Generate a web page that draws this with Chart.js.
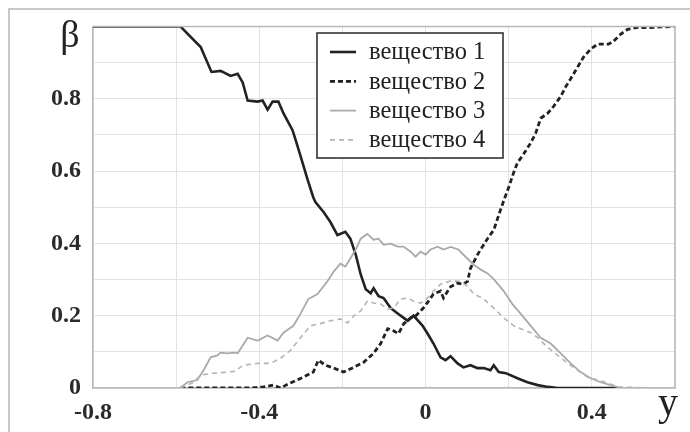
<!DOCTYPE html>
<html>
<head>
<meta charset="utf-8">
<script src="https://cdn.jsdelivr.net/npm/chart.js@4/dist/chart.umd.min.js"></script>
<style>
  html, body { margin: 0; padding: 0; background: #fff; }
  #wrap { width: 690px; height: 432px; }
</style>
</head>
<body>
<div id="wrap"><canvas id="c" width="690" height="432"></canvas></div>
<script>
// Series names (legend text)
const seriesNames = ['вещество 1', 'вещество 2', 'вещество 3', 'вещество 4'];

// вещество 1: y coordinate and β
const y1 = [-0.8, -0.59, -0.541, -0.515, -0.493, -0.469, -0.452, -0.44, -0.428, -0.404, -0.392, -0.38, -0.368, -0.354, -0.342, -0.32, -0.308, -0.296, -0.284, -0.27, -0.265, -0.245, -0.229, -0.212, -0.193, -0.181, -0.168, -0.156, -0.144, -0.132, -0.125, -0.113, -0.101, -0.084, -0.06, -0.043, -0.029, -0.007, 0.005, 0.019, 0.036, 0.048, 0.06, 0.077, 0.091, 0.108, 0.125, 0.14, 0.156, 0.164, 0.176, 0.193, 0.221, 0.245, 0.27, 0.294, 0.318, 0.47];
const b1 = [1, 1, 0.943, 0.874, 0.877, 0.863, 0.869, 0.845, 0.795, 0.792, 0.795, 0.77, 0.792, 0.792, 0.76, 0.713, 0.669, 0.623, 0.577, 0.527, 0.514, 0.486, 0.459, 0.423, 0.432, 0.413, 0.369, 0.314, 0.273, 0.262, 0.276, 0.254, 0.249, 0.221, 0.2, 0.186, 0.2, 0.172, 0.15, 0.123, 0.085, 0.077, 0.088, 0.068, 0.057, 0.063, 0.055, 0.055, 0.049, 0.063, 0.044, 0.041, 0.027, 0.016, 0.008, 0.003, 0, 0];

// вещество 2
const y2 = [-0.59, -0.469, -0.421, -0.39, -0.366, -0.349, -0.325, -0.294, -0.27, -0.258, -0.241, -0.221, -0.197, -0.173, -0.149, -0.125, -0.108, -0.091, -0.077, -0.065, -0.053, -0.036, -0.024, -0.007, 0.007, 0.019, 0.036, 0.043, 0.06, 0.077, 0.091, 0.101, 0.108, 0.125, 0.149, 0.164, 0.176, 0.188, 0.2, 0.212, 0.221, 0.233, 0.253, 0.265, 0.277, 0.294, 0.308, 0.325, 0.337, 0.349, 0.366, 0.38, 0.397, 0.414, 0.428, 0.44, 0.452, 0.469, 0.486, 0.51, 0.542, 0.6];
const b2 = [0, 0, 0, 0.003, 0.008, 0, 0.014, 0.03, 0.044, 0.077, 0.063, 0.055, 0.044, 0.057, 0.071, 0.096, 0.123, 0.164, 0.158, 0.15, 0.177, 0.194, 0.199, 0.219, 0.24, 0.26, 0.268, 0.249, 0.28, 0.29, 0.287, 0.295, 0.331, 0.369, 0.413, 0.437, 0.478, 0.518, 0.555, 0.596, 0.623, 0.642, 0.678, 0.705, 0.746, 0.76, 0.779, 0.806, 0.833, 0.855, 0.888, 0.915, 0.937, 0.951, 0.951, 0.951, 0.959, 0.978, 0.992, 0.997, 0.997, 1];

// вещество 3
const y3 = [-0.59, -0.573, -0.549, -0.534, -0.517, -0.501, -0.493, -0.477, -0.462, -0.452, -0.428, -0.404, -0.38, -0.356, -0.342, -0.318, -0.301, -0.282, -0.26, -0.236, -0.221, -0.205, -0.193, -0.181, -0.168, -0.156, -0.14, -0.125, -0.113, -0.101, -0.084, -0.067, -0.053, -0.036, -0.024, -0.012, 0, 0.012, 0.029, 0.043, 0.06, 0.079, 0.096, 0.116, 0.132, 0.149, 0.164, 0.188, 0.209, 0.229, 0.253, 0.277, 0.301, 0.325, 0.349, 0.373, 0.397, 0.421, 0.445, 0.469];
const b3 = [0, 0.016, 0.022, 0.049, 0.085, 0.09, 0.098, 0.096, 0.098, 0.096, 0.139, 0.131, 0.145, 0.131, 0.153, 0.172, 0.205, 0.246, 0.26, 0.295, 0.322, 0.344, 0.336, 0.358, 0.383, 0.413, 0.426, 0.41, 0.413, 0.396, 0.399, 0.391, 0.391, 0.377, 0.363, 0.377, 0.369, 0.383, 0.391, 0.383, 0.39, 0.383, 0.363, 0.341, 0.328, 0.317, 0.301, 0.268, 0.232, 0.205, 0.172, 0.139, 0.123, 0.096, 0.068, 0.044, 0.027, 0.016, 0.008, 0];

// вещество 4
const y4 = [-0.59, -0.558, -0.541, -0.51, -0.477, -0.46, -0.438, -0.404, -0.373, -0.349, -0.325, -0.301, -0.277, -0.253, -0.229, -0.205, -0.188, -0.173, -0.156, -0.14, -0.125, -0.108, -0.091, -0.077, -0.06, -0.043, -0.029, -0.012, 0.005, 0.019, 0.036, 0.06, 0.084, 0.101, 0.116, 0.14, 0.164, 0.188, 0.212, 0.229, 0.253, 0.27, 0.294, 0.318, 0.342, 0.366, 0.39, 0.414, 0.438, 0.462, 0.542];
const b4 = [0, 0.016, 0.036, 0.041, 0.044, 0.046, 0.063, 0.068, 0.068, 0.082, 0.104, 0.139, 0.172, 0.178, 0.186, 0.191, 0.18, 0.199, 0.213, 0.24, 0.235, 0.232, 0.219, 0.221, 0.246, 0.249, 0.24, 0.235, 0.249, 0.268, 0.287, 0.296, 0.295, 0.281, 0.26, 0.246, 0.221, 0.194, 0.172, 0.164, 0.153, 0.139, 0.112, 0.09, 0.068, 0.049, 0.03, 0.022, 0.014, 0.003, 0];

// Axis labels drawn at the ends of the axes
const yAxisTitle = 'β';
const xAxisTitle = 'y';

const pts = (xs, ys) => xs.map((x, i) => ({ x: x, y: ys[i] }));

const SERIF = "'Liberation Serif', 'DejaVu Serif', serif";

const styles = [
  { color: '#222222', width: 2.6, dash: [] },
  { color: '#222222', width: 2.8, dash: [5, 3] },
  { color: '#a9a9a9', width: 1.8, dash: [] },
  { color: '#b4b4b4', width: 1.6, dash: [5, 4] }
];

const datasets = [pts(y1, b1), pts(y2, b2), pts(y3, b3), pts(y4, b4)].map((d, i) => ({
  label: seriesNames[i],
  data: d,
  borderColor: styles[i].color,
  borderWidth: styles[i].width,
  borderDash: styles[i].dash,
  pointRadius: 0,
  tension: 0,
  fill: false,
  order: 4 - i
}));

// Outer frame, plot frame, axis titles and the boxed legend
const decor = {
  id: 'decor',
  beforeDraw(chart) {
    const ctx = chart.ctx;
    ctx.save();
    ctx.fillStyle = '#fff';
    ctx.fillRect(0, 0, chart.width, chart.height);
    ctx.strokeStyle = '#c8c8c8';
    ctx.lineWidth = 2;
    ctx.strokeRect(9, 9, 700, 440);
    ctx.restore();
  },
  afterDatasetsDraw(chart) {
    const ctx = chart.ctx;
    const a = chart.chartArea;
    ctx.save();
    // right and top edges of the plot
    ctx.strokeStyle = '#b8b8b8';
    ctx.lineWidth = 1.5;
    ctx.beginPath();
    ctx.moveTo(a.left, a.top);
    ctx.lineTo(a.right, a.top);
    ctx.lineTo(a.right, a.bottom);
    ctx.stroke();

    // axis titles
    ctx.fillStyle = '#222';
    ctx.font = '38px ' + SERIF;
    ctx.textAlign = 'center';
    ctx.textBaseline = 'alphabetic';
    ctx.fillText(yAxisTitle, 70, 47);
    ctx.font = '40px ' + SERIF;
    ctx.fillText(xAxisTitle, 668, 415);

    // legend box
    const lx = 317, ly = 33, lw = 186, lh = 125;
    ctx.fillStyle = '#fff';
    ctx.fillRect(lx, ly, lw, lh);
    ctx.strokeStyle = '#333';
    ctx.lineWidth = 1.6;
    ctx.strokeRect(lx, ly, lw, lh);
    ctx.font = '24.5px ' + SERIF;
    ctx.textAlign = 'left';
    ctx.textBaseline = 'middle';
    chart.data.datasets.forEach((ds, i) => {
      const cy = ly + 19 + i * 29.3;
      ctx.strokeStyle = ds.borderColor;
      ctx.lineWidth = ds.borderWidth;
      ctx.setLineDash(ds.borderDash);
      ctx.beginPath();
      ctx.moveTo(330, cy);
      ctx.lineTo(356, cy);
      ctx.stroke();
      ctx.setLineDash([]);
      ctx.fillStyle = '#222';
      ctx.fillText(ds.label, 369, cy + 1);
    });
    ctx.restore();
  }
};

new Chart(document.getElementById('c'), {
  type: 'line',
  data: { datasets: datasets },
  options: {
    responsive: false,
    animation: false,
    events: [],
    layout: { padding: { top: 22, right: 15, left: 0, bottom: 0 } },
    plugins: { legend: { display: false }, tooltip: { enabled: false } },
    scales: {
      x: {
        type: 'linear',
        min: -0.8,
        max: 0.6,
        afterFit(s) { s.height = 44; },
        grid: { color: '#e2e2e2', lineWidth: 1, drawTicks: false },
        border: { color: '#b8b8b8', width: 1.5 },
        ticks: {
          stepSize: 0.2,
          padding: 10,
          autoSkip: false,
          maxRotation: 0,
          color: '#2a2a2a',
          font: { family: SERIF, size: 24, weight: 'bold' },
          callback(v) {
            const k = Math.round(v * 10);
            return (k % 4 === 0 && k < 6) ? String(k / 10) : '';
          }
        }
      },
      y: {
        type: 'linear',
        min: 0,
        max: 1,
        afterFit(s) { s.width = 93; },
        grid: { color: '#e2e2e2', lineWidth: 1, drawTicks: false },
        border: { color: '#b8b8b8', width: 1.5 },
        ticks: {
          stepSize: 0.1,
          padding: 12,
          autoSkip: false,
          color: '#2a2a2a',
          font: { family: SERIF, size: 24, weight: 'bold' },
          callback(v) {
            const k = Math.round(v * 10);
            return (k % 2 === 0 && k < 10) ? String(k / 10) : '';
          }
        }
      }
    }
  },
  plugins: [decor]
});
</script>
</body>
</html>
